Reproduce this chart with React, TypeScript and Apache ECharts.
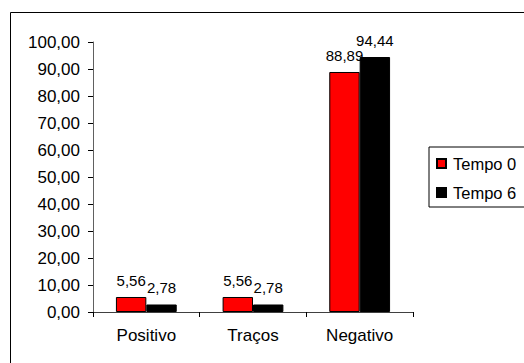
import React, { useEffect, useRef } from "react";
import * as echarts from "echarts";

const categories = ["Positivo", "Traços", "Negativo"];
const tempo0 = [5.56, 5.56, 88.89];
const tempo6 = [2.78, 2.78, 94.44];
const seriesNames = ["Tempo 0", "Tempo 6"];

const fmt = (v: number) => v.toFixed(2).replace(".", ",");
const FONT = "'Liberation Sans', Arial, sans-serif";

export default function App() {
  const ref = useRef<HTMLDivElement>(null);
  useEffect(() => {
    if (!ref.current) return;
    const chart = echarts.init(ref.current, null, { renderer: "svg" });
    const labelCfg = {
      show: true,
      position: "top" as const,
      distance: 9,
      color: "#000",
      fontFamily: FONT,
      fontSize: 15,
      formatter: (p: any) => fmt(p.value),
    };
    chart.setOption({
      animation: false,
      backgroundColor: "#fff",
      textStyle: { fontFamily: FONT },
      graphic: [
        {
          type: "rect",
          shape: { x: 10.5, y: 12.5, width: 600, height: 400 },
          style: { fill: "none", stroke: "#000", lineWidth: 1 },
          silent: true,
          z: -1,
        },
      ],
      grid: { left: 93, right: 111, top: 42, bottom: 51, containLabel: false },
      legend: {
        orient: "vertical",
        left: 429,
        top: 147,
        padding: [8, 12, 6, 7],
        itemGap: 12,
        itemWidth: 9,
        itemHeight: 9,
        borderColor: "#000",
        borderWidth: 1,
        icon: "rect",
        textStyle: { fontFamily: FONT, fontSize: 16.5, color: "#000", lineHeight: 16, padding: [0, 0, 0, 2] },
        data: seriesNames,
      },
      xAxis: {
        type: "category",
        data: categories,
        axisLine: { show: true, lineStyle: { color: "#404040", width: 1 } },
        axisTick: { show: true, length: 5, lineStyle: { color: "#000" } },
        axisLabel: { color: "#000", fontFamily: FONT, fontSize: 17, margin: 15 },
      },
      yAxis: {
        type: "value",
        min: 0,
        max: 100,
        interval: 10,
        splitLine: { show: false },
        axisLine: { show: true, lineStyle: { color: "#606060", width: 1 } },
        axisTick: { show: true, length: 5, lineStyle: { color: "#000" } },
        axisLabel: {
          color: "#000",
          fontFamily: FONT,
          fontSize: 17,
          margin: 13,
          formatter: (v: number) => fmt(v),
        },
      },
      series: [
        {
          name: seriesNames[0],
          type: "bar",
          data: tempo0,
          barGap: "0%",
          barCategoryGap: "43%",
          itemStyle: { color: "#ff0000", borderColor: "#000", borderWidth: 1 },
          label: labelCfg,
        },
        {
          name: seriesNames[1],
          type: "bar",
          data: tempo6,
          barGap: "0%",
          barCategoryGap: "43%",
          itemStyle: { color: "#000000", borderColor: "#000", borderWidth: 1 },
          label: labelCfg,
        },
      ],
    });
    return () => chart.dispose();
  }, []);
  return (
    <div
      ref={ref}
      style={{ position: "fixed", left: 0, top: 0, width: 524, height: 363 }}
    />
  );
}
